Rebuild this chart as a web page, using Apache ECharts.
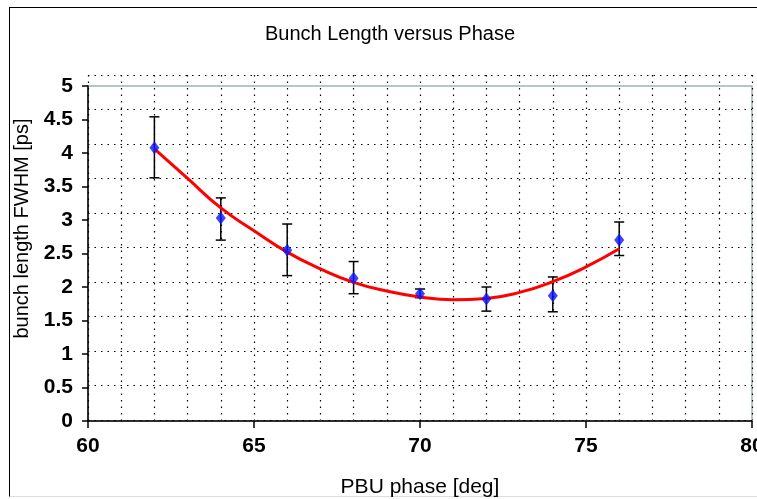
<!DOCTYPE html>
<html>
<head>
<meta charset="utf-8">
<script src="https://cdn.jsdelivr.net/npm/echarts@6/dist/echarts.min.js"></script>
<style>
  html, body { margin: 0; padding: 0; background: #fff; }
  #wrap { position: relative; width: 757px; height: 499px; overflow: hidden; }
  #frame { position: absolute; left: 9px; top: 7px; right: -4px; bottom: 2px;
           border-left: 1.5px solid #000; border-top: 1.5px solid #000; border-bottom: 1px solid #ddd; }
  #chart { position: absolute; left: 0; top: 0; width: 757px; height: 499px; }
</style>
</head>
<body>
<div id="wrap">
  <div id="frame"></div>
  <div id="chart"></div>
</div>
<script>
// measured bunch length with error bars
const phase = [62, 64, 66, 68, 70, 72, 74, 76]
const bunchLength = [4.08, 3.03, 2.55, 2.13, 1.90, 1.82, 1.87, 2.70]
const errLow = [3.63, 2.70, 2.17, 1.90, 1.84, 1.64, 1.63, 2.47]
const errHigh = [4.54, 3.33, 2.94, 2.38, 1.97, 2.00, 2.15, 2.97]

// red fit curve
const fitPhase = [62, 63, 64, 65, 66, 67, 68, 69, 70, 71, 72, 73, 74, 75, 76]
const fitLength = [4.06, 3.62, 3.18, 2.84, 2.52, 2.27, 2.07, 1.94, 1.85, 1.81, 1.83, 1.92, 2.08, 2.30, 2.57]

const font = 'Liberation Sans, Arial, Helvetica, sans-serif'

const chart = echarts.init(document.getElementById('chart'), null, { renderer: 'canvas' })

const dotted = {
  show: true,
  lineStyle: { color: '#000', width: 1.2, type: [1.5, 5] }
}

chart.setOption({
  backgroundColor: 'transparent',
  animation: false,
  title: {
    text: 'Bunch Length versus Phase',
    left: 385,
    textAlign: 'center',
    top: 19,
    textStyle: { fontFamily: font, fontSize: 20, fontWeight: 'normal', color: '#000' }
  },
  grid: [
    { left: 88, right: 5, top: 86, bottom: 78, show: true, borderColor: '#9fb3b3', borderWidth: 1.5, outerBoundsMode: 'none', containLabel: false },
    { left: 88, right: 5, top: 75, bottom: 79, outerBoundsMode: 'none', containLabel: false }
  ],
  xAxis: [{
    gridIndex: 0,
    type: 'value',
    min: 60,
    max: 80,
    interval: 5,
    name: 'PBU phase [deg]',
    nameLocation: 'middle',
    nameGap: 56,
    nameTextStyle: { fontFamily: font, fontSize: 21, color: '#000' },
    axisLine: { onZero: false, lineStyle: { color: '#000', width: 1.5 } },
    axisTick: { inside: false, length: 7, lineStyle: { color: '#000', width: 1.5 } },
    axisLabel: { margin: 15, fontFamily: font, fontSize: 21, fontWeight: 'bold', color: '#000' },
    splitLine: { show: false }
  }, {
    gridIndex: 1,
    type: 'value',
    min: 60,
    max: 80,
    interval: 1,
    axisLine: { show: false },
    axisTick: { show: false },
    axisLabel: { show: false },
    splitLine: dotted
  }],
  yAxis: [{
    gridIndex: 0,
    type: 'value',
    min: 0,
    max: 5,
    interval: 0.5,
    name: 'bunch length FWHM [ps]',
    nameLocation: 'middle',
    nameGap: 56,
    nameTextStyle: { fontFamily: font, fontSize: 20, color: '#000', padding: [0, 0, 0, 50] },
    axisLine: { show: true, onZero: false, lineStyle: { color: '#000', width: 1.5 } },
    axisTick: { show: true, inside: false, length: 6, lineStyle: { color: '#000', width: 1.5 } },
    axisLabel: { margin: 15, fontFamily: font, fontSize: 21, fontWeight: 'bold', color: '#000' },
    splitLine: { show: false }
  }, {
    gridIndex: 1,
    type: 'value',
    min: 0,
    max: 5,
    interval: 0.5,
    axisLine: { show: false },
    axisTick: { show: false },
    axisLabel: { show: false },
    splitLine: dotted
  }],
  series: [{
    name: 'fit',
    type: 'line',
    xAxisIndex: 0,
    yAxisIndex: 0,
    data: fitPhase.map((x, i) => [x, fitLength[i]]),
    smooth: true,
    showSymbol: false,
    lineStyle: { color: '#ff0000', width: 3 },
    z: 3
  }, {
    name: 'error',
    type: 'custom',
    xAxisIndex: 0,
    yAxisIndex: 0,
    data: phase.map((x, i) => [x, errLow[i], errHigh[i]]),
    renderItem(params, api) {
      const lo = api.coord([api.value(0), api.value(1)])
      const hi = api.coord([api.value(0), api.value(2)])
      const w = 5
      const style = { stroke: '#000', lineWidth: 1.5 }
      return {
        type: 'group',
        children: [
          { type: 'line', shape: { x1: lo[0], y1: lo[1], x2: hi[0], y2: hi[1] }, style },
          { type: 'line', shape: { x1: lo[0] - w, y1: lo[1], x2: lo[0] + w, y2: lo[1] }, style },
          { type: 'line', shape: { x1: hi[0] - w, y1: hi[1], x2: hi[0] + w, y2: hi[1] }, style }
        ]
      }
    },
    z: 2
  }, {
    name: 'data',
    type: 'scatter',
    xAxisIndex: 0,
    yAxisIndex: 0,
    data: phase.map((x, i) => [x, bunchLength[i]]),
    symbol: 'diamond',
    symbolSize: [10, 13],
    itemStyle: { color: '#0a14ff' },
    z: 4
  }]
})
</script>
</body>
</html>
